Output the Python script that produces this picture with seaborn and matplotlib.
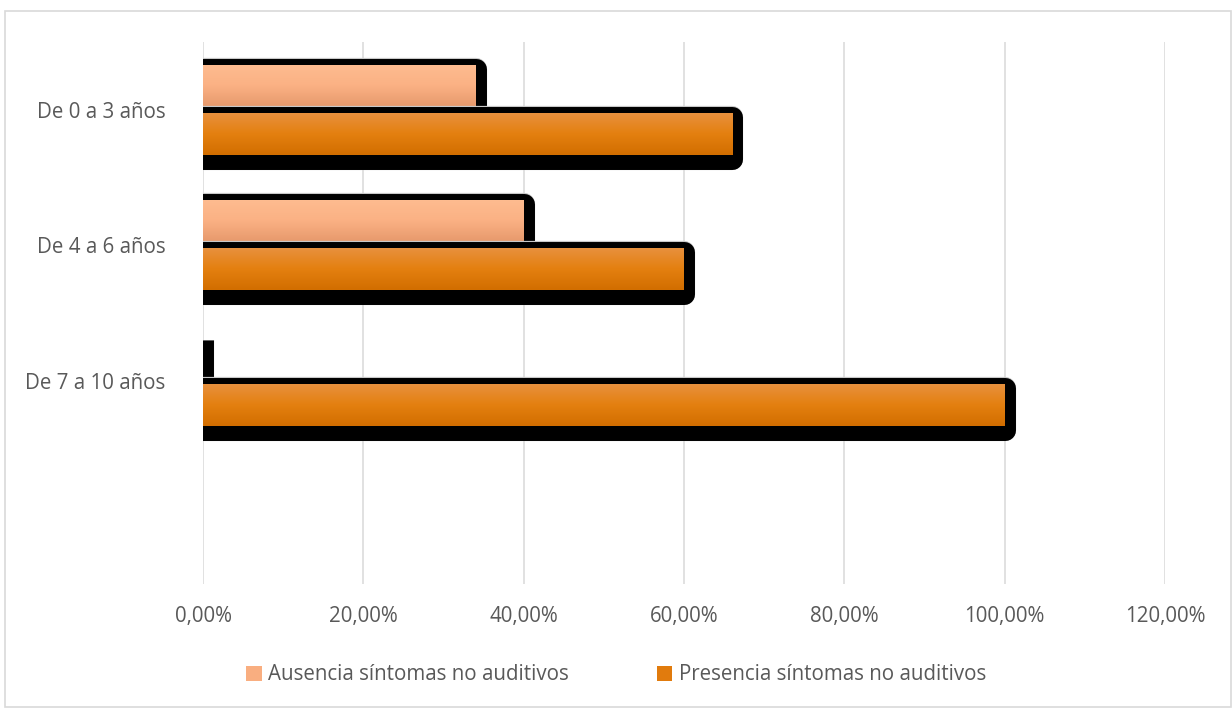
import numpy as np
import pandas as pd
import matplotlib
matplotlib.use("Agg")
import matplotlib.pyplot as plt
import matplotlib.patheffects as pe
from matplotlib.colors import LinearSegmentedColormap
from matplotlib.patches import Patch, Rectangle
import seaborn as sns

categories = ["De 0 a 3 años", "De 4 a 6 años", "De 7 a 10 años"]
series_names = ["Ausencia síntomas no auditivos", "Presencia síntomas no auditivos"]
ausencia = [34.0, 40.0, 0.0]
presencia = [66.0, 60.0, 100.0]
x_ticks = [0, 20, 40, 60, 80, 100, 120]

df = pd.DataFrame({
    "cat": categories * 2,
    "serie": [series_names[0]] * 3 + [series_names[1]] * 3,
    "val": ausencia + presencia,
})

sns.set_theme(style="white")
plt.rcParams["font.family"] = ["Open Sans", "DejaVu Sans"]
TXT = "#595959"
FS = 14.8

fig = plt.figure(figsize=(12.32, 7.08), dpi=100)
ax = fig.add_axes([203 / 1232, 1 - 584 / 708, (1165 - 203) / 1232, (584 - 42) / 708])

solid = ["#F9AE80", "#E17B0D"]
sns.barplot(data=df, y="cat", x="val", hue="serie", hue_order=series_names,
            order=categories, orient="h", palette=solid, width=0.708, gap=0.124,
            linewidth=0, edgecolor="none", legend=False, ax=ax, errorbar=None)

grads = [
    LinearSegmentedColormap.from_list("g0", ["#FEBC90", "#FBB184", "#E6996C"]),
    LinearSegmentedColormap.from_list("g1", ["#E8913F", "#E48010", "#D26E00"]),
]
shadow = [
    pe.Stroke(linewidth=16.0, foreground="#c8c8c8", offset=(0, -2.9), joinstyle="round"),
    pe.Stroke(linewidth=15.1, foreground="black", offset=(0, -2.9), joinstyle="round"),
    pe.Normal(),
]
grad_img = np.linspace(0, 1, 64).reshape(-1, 1)
for i, cont in enumerate(ax.containers):
    for bar in cont:
        bar.set_zorder(3 + 2 * i)
        bar.set_path_effects(shadow)
        w = bar.get_width()
        if w and np.isfinite(w) and w > 0:
            x0, y0, h = bar.get_x(), bar.get_y(), bar.get_height()
            im = ax.imshow(grad_img, cmap=grads[i], aspect="auto", origin="upper",
                           extent=[x0, x0 + w, y0 + h, y0], zorder=3.5 + 2 * i,
                           interpolation="bilinear")
            im.set_clip_path(bar)

ax.set_xlim(0, 120)
ax.set_ylim(3.5, -0.5)
ax.set_xticks(x_ticks)
ax.set_xticklabels([f"{v:.2f}%".replace(".", ",") for v in x_ticks])
ax.set_yticks(range(len(categories)))
ax.set_yticklabels(categories)
ax.set_xlabel("")
ax.set_ylabel("")
ax.grid(axis="x", color="#d9d9d9", linewidth=1.1)
ax.grid(axis="y", visible=False)
ax.set_axisbelow(True)
for s in ax.spines.values():
    s.set_visible(False)
ax.tick_params(axis="x", length=0, pad=16, labelsize=FS, labelcolor=TXT)
ax.tick_params(axis="y", length=0, pad=27, labelsize=FS, labelcolor=TXT)

handles = [Patch(facecolor=solid[0], edgecolor="none"), Patch(facecolor=solid[1], edgecolor="none")]
fig.legend(handles, series_names, loc="center", bbox_to_anchor=(0.5, 1 - 675 / 708),
           ncol=2, frameon=False, fontsize=FS, labelcolor=TXT, handlelength=0.75,
           handleheight=0.75, handletextpad=0.3, columnspacing=4.3)

fig.add_artist(Rectangle((5 / 1232, 1 / 708), 1226 / 1232, 696 / 708,
                         transform=fig.transFigure, fill=False,
                         edgecolor="#d9d9d9", linewidth=1.2))

fig.savefig("out.png", dpi=100)
